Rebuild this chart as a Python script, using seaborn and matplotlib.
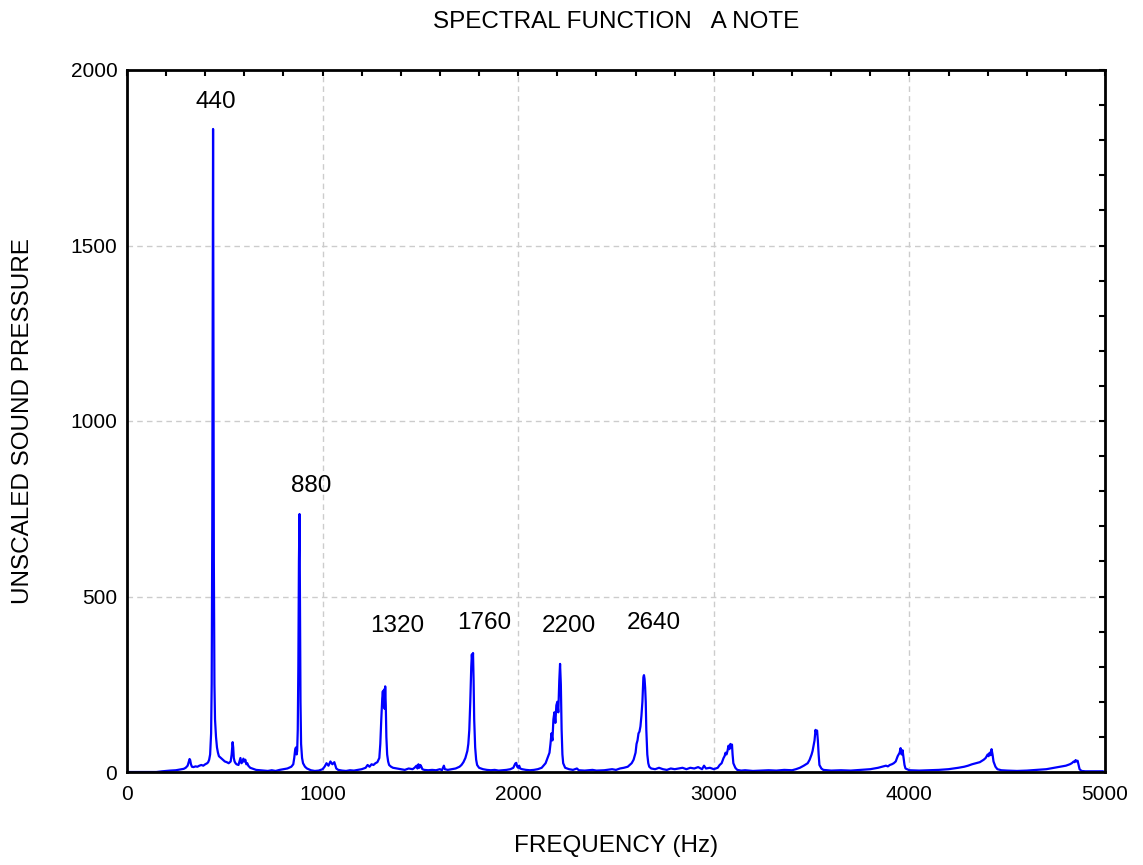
import numpy as np
import pandas as pd
import matplotlib
import matplotlib.pyplot as plt
from matplotlib.ticker import MultipleLocator
import seaborn as sns

# --- data --------------------------------------------------------------------

FREQ = [
    0, 50, 100, 150, 180, 200, 220, 250, 270, 290, 300, 310, 315, 320, 323, 327, 332, 340, 350, 360,
    370, 380, 390, 400, 410, 415, 420, 425, 430, 433, 436, 438, 440, 442, 444, 447, 450, 455, 460, 465,
    470, 480, 490, 500, 510, 520, 530, 535, 540, 543, 546, 550, 555, 560, 570, 575, 580, 585, 590, 595,
    600, 605, 610, 615, 620, 625, 630, 640, 650, 660, 680, 700, 720, 740, 760, 780, 800, 820, 840, 850,
    855, 860, 864, 867, 870, 873, 876, 879, 882, 884, 887, 890, 895, 900, 910, 920, 940, 960, 980, 1000,
    1010, 1020, 1030, 1040, 1050, 1060, 1070, 1080, 1100, 1120, 1140, 1160, 1180, 1200, 1220, 1230, 1240, 1250, 1260, 1270,
    1280, 1290, 1295, 1300, 1305, 1308, 1311, 1314, 1317, 1320, 1323, 1326, 1330, 1335, 1340, 1350, 1360, 1380, 1400, 1420,
    1440, 1460, 1470, 1480, 1485, 1490, 1495, 1500, 1505, 1510, 1520, 1540, 1560, 1580, 1600, 1610, 1620, 1625, 1640, 1660,
    1680, 1700, 1710, 1720, 1730, 1740, 1745, 1750, 1755, 1760, 1763, 1766, 1769, 1772, 1775, 1780, 1785, 1790, 1800, 1820,
    1840, 1860, 1880, 1900, 1920, 1940, 1960, 1975, 1985, 1990, 1995, 2000, 2005, 2010, 2020, 2040, 2060, 2080, 2100, 2120,
    2140, 2150, 2160, 2165, 2170, 2175, 2180, 2185, 2190, 2195, 2200, 2205, 2210, 2214, 2218, 2222, 2226, 2230, 2240, 2260,
    2280, 2300, 2310, 2340, 2380, 2400, 2440, 2480, 2500, 2520, 2540, 2560, 2580, 2590, 2600, 2605, 2610, 2615, 2620, 2625,
    2630, 2635, 2640, 2643, 2646, 2649, 2652, 2655, 2660, 2665, 2670, 2680, 2700, 2720, 2740, 2760, 2780, 2800, 2820, 2840,
    2860, 2880, 2900, 2920, 2940, 2950, 2960, 2980, 3000, 3020, 3030, 3040, 3050, 3055, 3060, 3065, 3070, 3075, 3080, 3085,
    3090, 3093, 3096, 3100, 3110, 3120, 3140, 3160, 3180, 3200, 3240, 3280, 3320, 3360, 3400, 3420, 3440, 3460, 3480, 3490,
    3500, 3505, 3510, 3515, 3520, 3524, 3528, 3532, 3536, 3540, 3550, 3560, 3600, 3650, 3700, 3750, 3800, 3820, 3840, 3860,
    3880, 3890, 3900, 3910, 3920, 3930, 3940, 3950, 3955, 3960, 3965, 3970, 3975, 3980, 4000, 4050, 4100, 4150, 4200, 4250,
    4280, 4300, 4320, 4340, 4360, 4380, 4390, 4400, 4405, 4410, 4415, 4420, 4425, 4430, 4440, 4450, 4470, 4500, 4550, 4600,
    4650, 4700, 4740, 4770, 4800, 4820, 4830, 4840, 4845, 4850, 4855, 4860, 4865, 4870, 4880, 4900, 4950, 4990,
]

AMP = [
    0, 0, 0, 0, 2, 3, 4, 5, 7, 9, 12, 18, 28, 37, 34, 22, 15, 14, 16, 15,
    18, 20, 18, 22, 25, 28, 35, 50, 110, 250, 700, 1300, 1832, 1200, 600, 250, 150, 100, 70, 55,
    45, 40, 35, 30, 28, 25, 30, 50, 85, 70, 40, 30, 25, 22, 20, 30, 40, 25, 28, 38,
    30, 35, 22, 25, 18, 15, 12, 10, 8, 6, 5, 4, 3, 5, 3, 6, 8, 10, 15, 22,
    40, 65, 70, 50, 60, 120, 300, 600, 735, 500, 200, 80, 40, 25, 15, 10, 5, 3, 4, 8,
    15, 25, 18, 30, 22, 28, 10, 6, 4, 3, 5, 4, 6, 8, 12, 20, 15, 22, 20, 25,
    28, 40, 80, 150, 210, 230, 200, 235, 180, 244, 190, 100, 50, 30, 20, 15, 12, 10, 8, 6,
    10, 8, 12, 18, 10, 22, 12, 20, 15, 8, 6, 5, 6, 5, 8, 5, 18, 8, 6, 8,
    10, 15, 20, 28, 40, 60, 80, 120, 200, 300, 335, 310, 339, 260, 150, 70, 35, 20, 12, 8,
    6, 5, 6, 4, 5, 6, 8, 12, 24, 26, 15, 12, 18, 10, 8, 6, 5, 6, 8, 12,
    25, 40, 55, 80, 110, 90, 150, 170, 140, 190, 200, 170, 260, 308, 250, 120, 50, 25, 12, 8,
    6, 10, 5, 4, 6, 4, 5, 8, 6, 10, 12, 15, 25, 35, 55, 80, 90, 110, 115, 130,
    160, 200, 270, 276, 265, 240, 200, 120, 50, 25, 15, 10, 8, 12, 8, 6, 10, 8, 10, 12,
    8, 12, 10, 14, 8, 18, 10, 12, 8, 12, 20, 25, 40, 45, 55, 50, 60, 75, 65, 80,
    70, 78, 50, 25, 12, 6, 4, 5, 4, 3, 4, 5, 4, 6, 5, 8, 12, 18, 25, 35,
    50, 60, 75, 90, 120, 110, 118, 90, 50, 20, 10, 6, 4, 5, 4, 6, 8, 10, 12, 15,
    18, 16, 20, 22, 25, 30, 45, 55, 68, 50, 62, 40, 20, 10, 5, 4, 5, 6, 8, 12,
    15, 18, 22, 25, 28, 35, 40, 50, 45, 55, 48, 65, 50, 30, 15, 8, 5, 4, 3, 4,
    6, 8, 12, 15, 18, 22, 25, 30, 28, 34, 30, 32, 20, 8, 3, 2, 2, 2,
]

HARMONICS = ["440", "880", "1320", "1760", "2200", "2640"]

assert len(FREQ) == len(AMP)

df = pd.DataFrame({"freq": FREQ, "amp": AMP})

# label placement (data coords)
label_x = [455, 941, 1380, 1825, 2260, 2694]
label_y = [1910, 815, 417, 425, 417, 425]

sns.set_theme(style="white")
plt.rcParams["font.family"] = ["Liberation Sans", "DejaVu Sans"]

fig = plt.figure(figsize=(11.43, 8.65), dpi=100)
ax = fig.add_axes([127 / 1143, 93 / 865, 978 / 1143, 702 / 865])

sns.lineplot(data=df, x="freq", y="amp", ax=ax, color="#0000ff",
             linewidth=1.6, estimator=None, sort=False)

for txt, lx, ly in zip(HARMONICS, label_x, label_y):
    ax.text(lx, ly, txt, ha="center", va="center", fontsize=17.5, color="black")

ax.set_xlim(0, 5000)
ax.set_ylim(0, 2000)
ax.xaxis.set_major_locator(MultipleLocator(1000))
ax.xaxis.set_minor_locator(MultipleLocator(200))
ax.yaxis.set_major_locator(MultipleLocator(500))
ax.yaxis.set_minor_locator(MultipleLocator(100))
ax.tick_params(which="both", direction="in", top=True, right=True,
               length=4, width=1.5, color="black", labelsize=15, labelcolor="black")
ax.tick_params(axis="x", which="major", pad=9)
ax.tick_params(axis="y", which="major", pad=7)

ax.grid(True, which="major", linestyle=(0, (4, 3)), color="#cccccc", linewidth=1)
for s in ax.spines.values():
    s.set_visible(True)
    s.set_color("black")
    s.set_linewidth(2)

ax.set_xlabel("FREQUENCY (Hz)", fontsize=17.5, labelpad=23, color="black")
ax.set_ylabel("UNSCALED SOUND PRESSURE", fontsize=17.5, labelpad=26, color="black")
ax.set_title("SPECTRAL FUNCTION   A NOTE", fontsize=17.5, pad=30, color="black")

fig.savefig("out.png", dpi=100)
